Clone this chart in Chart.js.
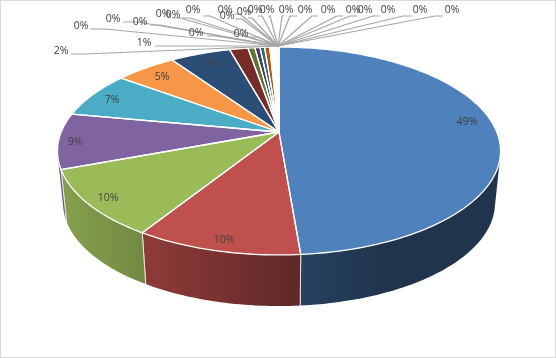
<!DOCTYPE html>
<html>
<head>
    <title>3D Pie</title>
    <script src="https://cdn.jsdelivr.net/npm/chart.js"></script>
    <style>
        html, body { margin: 0; padding: 0; background: #fff; }
        canvas { display: block; outline: 1px solid #d9d9d9; outline-offset: -1px; }
    </style>
</head>
<body>
    <canvas id="chartjs" width="556" height="358"></canvas>

    <script>
        // share of each slice in percent, clockwise from 12 o'clock
        const values = [48.7, 10.2, 10.4, 8.66, 7.18, 5.31, 5.25, 1.6, 0.6, 0.45, 0.4, 0.45,
            0.07, 0.06, 0.06, 0.05, 0.05, 0.05, 0.04, 0.04, 0.04, 0.04, 0.04,
            0.03, 0.03, 0.03, 0.03, 0.03, 0.03, 0.03, 0.03, 0.02];
        const categories = values.map((v, i) => 'Item ' + (i + 1));

        const palette = ['#4f81bd', '#c0504d', '#9bbb59', '#8064a2', '#4bacc6', '#f79646',
            '#2c4d75', '#772c2a', '#5f7530', '#4d3b62', '#276a7c', '#b65708',
            '#729aca', '#cd7371', '#afc97a', '#9983b5', '#6fbdd1', '#f9ab6b'];

        // label layout per slice: x, y, then leader stub x0, x1, y (none inside the pie)
        const labelSpots = [
            [467, 121], [224, 239], [108, 197], [75, 141], [112, 99], [162, 76], [212, 63],
            [61, 50, 71, 85, 54], [144, 42, 155, 170, 46],
            [81, 25, 90, 105, 29], [113, 18, 123, 138, 22], [140, 21, 150, 160, 25],
            [163, 13, 172, 180, 18], [173, 14, 182, 190, 18], [196, 32, 207, 215, 36],
            [193, 9, 203, 210, 16], [227, 15, 236, 242, 19], [225, 9, 234, 240, 14],
            [241, 33, 251, 258, 37], [244, 11, 248, 252, 18], [255, 9, 258, 262, 16],
            [267, 9, 268, 270, 16], [286, 9, 284, 282, 16], [305, 9, 297, 290, 16],
            [328, 9, 318, 312, 16], [353, 9, 343, 337, 16], [365, 9, 357, 350, 16],
            [388, 9, 380, 373, 16], [420, 9, 412, 403, 16], [452, 9, 443, 435, 16]
        ];

        // perspective of the pie top, hub is where the wedges meet
        const hub = { x: 279, y: 132 };
        const radius = 217.8, foreshorten = 100.5, tilt = 0.1827;
        const wallDrop = 52.2, wallNarrow = 0.975;
        const wallFrom = 103, wallTo = 257;
        const leaderHub = { x: 278, y: 46 };
        // wall darkening by screen x
        const wallShade = [[57, 0.86], [142, 0.74], [300, 0.5], [380, 0.41], [500, 0.41]];

        function rimPoint(theta, lower) {
            const u = Math.sin(theta), v = -Math.cos(theta);
            const d = 1 - tilt * v;
            if (lower) {
                return [hub.x + radius * wallNarrow * u / d, hub.y + wallDrop + foreshorten * 0.991 * v / d];
            }
            return [hub.x + radius * u / d, hub.y + foreshorten * v / d];
        }

        function rgbOf(hex, k) {
            const n = parseInt(hex.slice(1), 16);
            return `rgb(${Math.round((n >> 16) * k)}, ${Math.round(((n >> 8) & 255) * k)}, ${Math.round((n & 255) * k)})`;
        }

        function traceRim(ctx, a, b, lower) {
            const steps = Math.max(1, Math.ceil(Math.abs(b - a) / 0.02));
            for (let s = 0; s <= steps; s++) {
                const p = rimPoint(a + (b - a) * s / steps, lower);
                ctx.lineTo(p[0], p[1]);
            }
        }

        const pie3d = {
            id: 'pie3d',
            beforeDatasetsDraw: (chart) => {
                const ctx = chart.ctx;
                const arcs = chart.getDatasetMeta(0).data;
                const spans = arcs.map(arc => [arc.startAngle + Math.PI / 2, arc.endAngle + Math.PI / 2]);
                const lo = wallFrom * Math.PI / 180, hi = wallTo * Math.PI / 180;
                ctx.save();

                // side walls
                spans.forEach((span, i) => {
                    const a = Math.max(span[0], lo), b = Math.min(span[1], hi);
                    if (b <= a) return;
                    const color = palette[i % palette.length];
                    const first = wallShade[0][0], last = wallShade[wallShade.length - 1][0];
                    const grad = ctx.createLinearGradient(first, 0, last, 0);
                    wallShade.forEach(s => grad.addColorStop((s[0] - first) / (last - first), rgbOf(color, s[1])));
                    ctx.beginPath();
                    traceRim(ctx, a, b, false);
                    traceRim(ctx, b, a, true);
                    ctx.closePath();
                    ctx.fillStyle = grad;
                    ctx.fill();
                    ctx.strokeStyle = '#e4e4e4';
                    ctx.lineWidth = 1;
                    [a, b].forEach(t => {
                        if (t === lo || t === hi) return;
                        const p = rimPoint(t, false), q = rimPoint(t, true);
                        ctx.beginPath();
                        ctx.moveTo(p[0], p[1]);
                        ctx.lineTo(q[0], q[1]);
                        ctx.stroke();
                    });
                });

                // top face
                spans.forEach((span, i) => {
                    ctx.beginPath();
                    ctx.moveTo(hub.x, hub.y);
                    traceRim(ctx, span[0], span[1], false);
                    ctx.closePath();
                    ctx.fillStyle = palette[i % palette.length];
                    ctx.fill();
                });
                ctx.strokeStyle = '#ffffff';
                ctx.lineWidth = 1.3;
                ctx.lineJoin = 'round';
                spans.forEach(span => {
                    ctx.beginPath();
                    ctx.moveTo(hub.x, hub.y);
                    traceRim(ctx, span[0], span[1], false);
                    ctx.closePath();
                    ctx.stroke();
                });

                // leader lines and labels
                ctx.strokeStyle = '#a6a6a6';
                ctx.lineWidth = 1.2;
                ctx.fillStyle = '#404040';
                ctx.font = '10.5px "Open Sans"';
                ctx.textAlign = 'center';
                ctx.textBaseline = 'middle';
                labelSpots.forEach(spot => {
                    if (spot.length > 2) {
                        ctx.beginPath();
                        ctx.moveTo(spot[2], spot[4]);
                        ctx.lineTo(spot[3], spot[4]);
                        ctx.lineTo(leaderHub.x, leaderHub.y);
                        ctx.stroke();
                    }
                });
                labelSpots.forEach((spot, i) => {
                    ctx.fillText(Math.round(values[i]) + '%', spot[0], spot[1] + 1);
                });
                ctx.restore();
                return false;
            }
        };

        new Chart(document.getElementById('chartjs').getContext('2d'), {
            type: 'pie',
            data: {
                labels: categories,
                datasets: [{ data: values, backgroundColor: palette, borderWidth: 0 }]
            },
            options: {
                responsive: false,
                animation: false,
                plugins: {
                    legend: { display: false },
                    tooltip: { enabled: false }
                }
            },
            plugins: [pie3d]
        });
    </script>
</body>
</html>
